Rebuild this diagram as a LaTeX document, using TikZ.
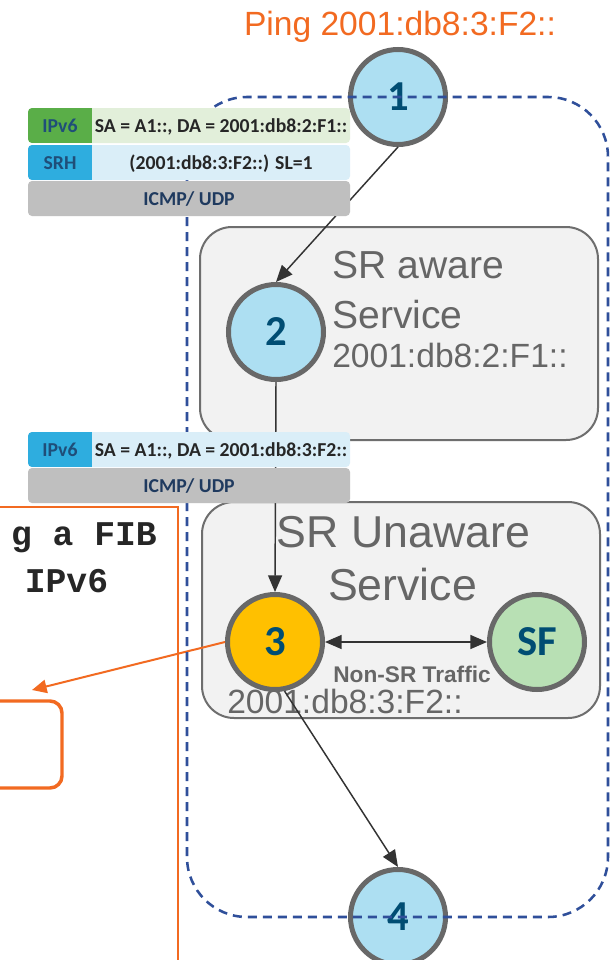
\documentclass[tikz,border=0pt]{standalone}
\usepackage{fontspec}
\setmainfont{Liberation Sans}
\newfontfamily\carl{Carlito}
\newfontfamily\monof{Liberation Mono}
\usetikzlibrary{arrows.meta}
\definecolor{cgray}{HTML}{686868}
\definecolor{cblue}{HTML}{ADDFF2}
\definecolor{camber}{HTML}{FFC000}
\definecolor{cgreen}{HTML}{B8E0B4}
\definecolor{numblue}{HTML}{004D73}
\definecolor{dashblue}{HTML}{2F4F9A}
\definecolor{boxfill}{HTML}{F2F2F2}
\definecolor{boxdraw}{HTML}{6E6E6E}
\definecolor{boxtext}{HTML}{666666}
\definecolor{orng}{HTML}{F26A21}
\definecolor{lgreen}{HTML}{E2EFDA}
\definecolor{dgreen}{HTML}{5AAE48}
\definecolor{lblue}{HTML}{DAEEF8}
\definecolor{mblue}{HTML}{2EADDF}
\definecolor{pgray}{HTML}{BFBFBF}
\definecolor{lbltext}{HTML}{1F4E79}
\definecolor{rowtext}{HTML}{262626}
\definecolor{icmptext}{HTML}{1F3A5F}
\definecolor{arrowc}{HTML}{333333}
\begin{document}
\begin{tikzpicture}[x=0.75pt,y=-0.75pt,
  circ/.style={circle, draw=cgray, line width=3.75pt, minimum size=71.25pt, inner sep=0pt,
    font=\carl\bfseries\fontsize{32pt}{32pt}\selectfont, text=numblue},
  svcbox/.style={fill=boxfill, draw=boxdraw, line width=1.5pt, rounded corners=24pt},
  bigtxt/.style={inner sep=0pt, text=boxtext, font=\fontsize{29.3pt}{30pt}\selectfont},
  hugetxt/.style={inner sep=0pt, text=boxtext, font=\fontsize{33.5pt}{34pt}\selectfont},
  addrtxt/.style={inner sep=0pt, text=boxtext, font=\fontsize{25.2pt}{26pt}\selectfont},
  lbl/.style={inner sep=0pt, anchor=base, text=lbltext, font=\carl\bfseries\fontsize{14.8pt}{15pt}\selectfont},
  rowt/.style={inner sep=0pt, anchor=base, text=rowtext, font=\carl\bfseries\fontsize{14.8pt}{15pt}\selectfont},
  icmpt/.style={inner sep=0pt, anchor=base, text=icmptext, font=\carl\bfseries\fontsize{14.8pt}{15pt}\selectfont},
  conn/.style={draw=arrowc, line width=1.1pt},
  tip/.style={-{Triangle[length=12.5pt,width=10.5pt]}},
  monot/.style={inner sep=0pt, font=\monof\bfseries\fontsize{26pt}{27pt}\selectfont, text=black!85},
]
\useasboundingbox (0,0) rectangle (615,960);
\clip (0,0) rectangle (615,960);
\fill[white] (0,0) rectangle (615,960);

% orange left panel
\draw[orng, line width=1.5pt] (-10,507) rectangle (178,975);
\node[monot, anchor=base east] (fib) at (157,545) {g a FIB};
\node[monot, anchor=base] (ipv6m) at (66.5,592) {IPv6};
\draw[orng, line width=2.6pt, rounded corners=9pt] (-20,701) rectangle (62,788);
\coordinate (otip) at (32,690);

% service boxes
\draw[svcbox] (200,227) rectangle (598,440);
\draw[svcbox] (202,502) rectangle (600,718);
\node[bigtxt, anchor=base west] (sra1) at (332,278) {SR aware};
\node[bigtxt, anchor=base west] (sra2) at (332,328) {Service};
\node[addrtxt, anchor=base west] (sra3) at (332,367) {2001:db8:2:F1::};
\node[hugetxt, anchor=base] (sru1) at (403.5,547) {SR Unaware};
\node[hugetxt, anchor=base] (sru2) at (402.5,600) {Service};
\node[addrtxt, anchor=base west] (sru3) at (227,713) {2001:db8:3:F2::};
\node[inner sep=0pt, anchor=base, text=boxtext, font=\bfseries\fontsize{17pt}{17pt}\selectfont] (nonsr) at (412,682) {Non-SR Traffic};

% circles
\node[circ, fill=cblue] (n1) at (398,97) {1};
\node[circ, fill=cblue] (n2) at (276,332) {2};
\node[circ, fill=camber] (n3) at (275,642) {3};
\node[circ, fill=cgreen] (sf) at (537,642) {SF};
\node[circ, fill=cblue] (n4) at (398,917) {4};

% connectors
\draw[conn, tip] (n1.south) -- (n2.north);
\draw[conn, tip] (n2.south) -- (n3.north);
\draw[conn, {Triangle[length=12.5pt,width=10.5pt]}-{Triangle[length=12.5pt,width=10.5pt]}] (n3.east) -- (sf.west);
\draw[conn, tip] (n3.-79) -- (n4.north);
\draw[orng, line width=1.5pt, -{Triangle[length=11pt,width=10pt]}] (n3.west) -- (otip);

% dashed domain
\draw[dashblue, line width=1.9pt, dash pattern=on 6.75pt off 4.5pt, rounded corners=45pt] (187,97) rectangle (608,917);

% packet 1
\begin{scope}
  \fill[lgreen, rounded corners=3pt] (28,108) rectangle (350,143);
  \clip[rounded corners=3pt] (28,108) rectangle (350,143);
  \fill[dgreen] (28,108) rectangle (92,143);
\end{scope}
\begin{scope}
  \fill[lblue, rounded corners=3pt] (28,145) rectangle (350,180);
  \clip[rounded corners=3pt] (28,145) rectangle (350,180);
  \fill[mblue] (28,145) rectangle (92,180);
\end{scope}
\fill[pgray, rounded corners=3pt] (28,181) rectangle (350,216);
\node[lbl] (p1l1) at (60,132) {IPv6};
\node[rowt] (p1r1) at (221,132) {SA = A1::, DA = 2001:db8:2:F1::};
\node[lbl] (p1l2) at (60,169) {SRH};
\node[rowt] (p1r2) at (221,169) {(2001:db8:3:F2::) SL=1};
\node[icmpt] (p1r3) at (189,205) {ICMP/ UDP};

% packet 2
\begin{scope}
  \fill[lblue, rounded corners=3pt] (28,432) rectangle (350,467);
  \clip[rounded corners=3pt] (28,432) rectangle (350,467);
  \fill[mblue] (28,432) rectangle (92,467);
\end{scope}
\fill[pgray, rounded corners=3pt] (28,468) rectangle (350,503);
\node[lbl] (p2l1) at (60,456) {IPv6};
\node[rowt] (p2r1) at (221,456) {SA = A1::, DA = 2001:db8:3:F2::};
\node[icmpt] (p2r2) at (189,492) {ICMP/ UDP};

% title
\node[inner sep=0pt, anchor=base, text=orng, font=\fontsize{25.2pt}{26pt}\selectfont] (title) at (400,35) {Ping 2001:db8:3:F2::};
\end{tikzpicture}
\end{document}
